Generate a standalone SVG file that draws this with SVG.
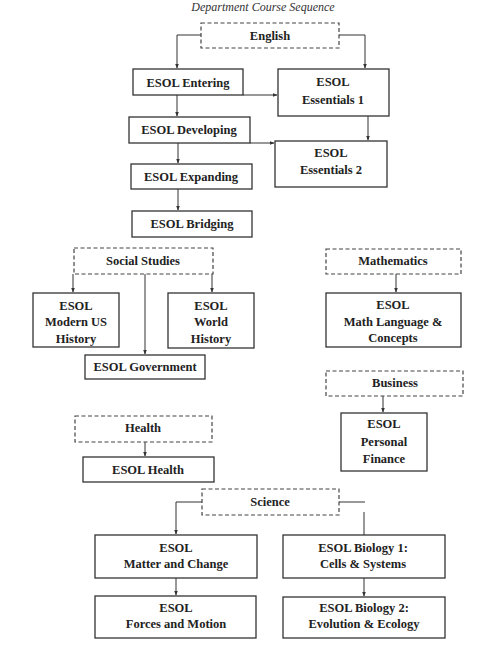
<svg xmlns="http://www.w3.org/2000/svg" width="500" height="669" viewBox="0 0 500 669">
<defs>
<marker id="ah" markerWidth="5" markerHeight="5" refX="4.5" refY="2.5" orient="auto" markerUnits="userSpaceOnUse">
<path d="M0,0.5 L5,2.5 L0,4.5 Z" fill="#333"/>
</marker>
<style>
.box{fill:#fff;stroke:#333;stroke-width:1.3}
.dash{fill:#fff;stroke:#444;stroke-width:1.2;stroke-dasharray:4 2.5}
.t{font-family:"Liberation Serif","Times New Roman",serif;font-weight:bold;font-size:12.5px;fill:#222;text-anchor:middle}
.c{fill:none;stroke:#333;stroke-width:1}
.title{font-family:"Liberation Serif",serif;font-style:italic;font-size:12px;fill:#333;text-anchor:middle}
</style>
</defs>
<rect width="500" height="669" fill="#fff"/>
<text class="title" x="263" y="11">Department Course Sequence</text>

<g id="connectors">
<polyline class="c" points="201,35 177,35 177,68" marker-end="url(#ah)"/>
<polyline class="c" points="339,35 365,35 365,68" marker-end="url(#ah)"/>
<line class="c" x1="243" y1="95" x2="277" y2="95" marker-end="url(#ah)"/>
<line class="c" x1="177" y1="95" x2="177" y2="116" marker-end="url(#ah)"/>
<line class="c" x1="368" y1="116" x2="368" y2="140" marker-end="url(#ah)"/>
<line class="c" x1="250" y1="143" x2="274" y2="143" marker-end="url(#ah)"/>
<line class="c" x1="178" y1="143" x2="178" y2="163" marker-end="url(#ah)"/>
<line class="c" x1="178" y1="189" x2="178" y2="210" marker-end="url(#ah)"/>
<line class="c" x1="73" y1="274" x2="73" y2="292" marker-end="url(#ah)"/>
<line class="c" x1="212" y1="274" x2="212" y2="292" marker-end="url(#ah)"/>
<line class="c" x1="145" y1="274" x2="145" y2="354" marker-end="url(#ah)"/>
<line class="c" x1="396" y1="274" x2="396" y2="292" marker-end="url(#ah)"/>
<line class="c" x1="383" y1="396" x2="383" y2="412" marker-end="url(#ah)"/>
<line class="c" x1="145" y1="442" x2="145" y2="456" marker-end="url(#ah)"/>
<polyline class="c" points="202,502 176,502 176,534" marker-end="url(#ah)"/>
<line class="c" x1="339" y1="502" x2="365" y2="502"/>
<line class="c" x1="364" y1="512" x2="364" y2="541" marker-end="url(#ah)"/>
<line class="c" x1="176" y1="578" x2="176" y2="595" marker-end="url(#ah)"/>
<line class="c" x1="364" y1="578" x2="364" y2="596" marker-end="url(#ah)"/>
</g>

<g id="english"><rect class="dash" x="201" y="23" width="138" height="25"/><text class="t" x="270" y="40">English</text></g>
<g id="esol-entering"><rect class="box" x="133" y="69" width="110" height="26"/><text class="t" x="188" y="87">ESOL Entering</text></g>
<g id="esol-essentials-1"><rect class="box" x="278" y="69" width="111" height="47"/><text class="t" x="333" y="86">ESOL</text><text class="t" x="333" y="104">Essentials 1</text></g>
<g id="esol-developing"><rect class="box" x="129" y="117" width="121" height="26"/><text class="t" x="189" y="134">ESOL Developing</text></g>
<g id="esol-essentials-2"><rect class="box" x="275" y="141" width="112" height="46"/><text class="t" x="331" y="157">ESOL</text><text class="t" x="331" y="174">Essentials 2</text></g>
<g id="esol-expanding"><rect class="box" x="131" y="164" width="121" height="25"/><text class="t" x="191" y="181">ESOL Expanding</text></g>
<g id="esol-bridging"><rect class="box" x="132" y="211" width="120" height="26"/><text class="t" x="192" y="228">ESOL Bridging</text></g>

<g id="social-studies"><rect class="dash" x="74" y="248" width="139" height="26"/><text class="t" x="143" y="265">Social Studies</text></g>
<g id="esol-modern-us-history"><rect class="box" x="33" y="293" width="86" height="54"/><text class="t" x="76" y="310">ESOL</text><text class="t" x="76" y="326">Modern US</text><text class="t" x="76" y="343">History</text></g>
<g id="esol-world-history"><rect class="box" x="168" y="293" width="86" height="55"/><text class="t" x="211" y="310">ESOL</text><text class="t" x="211" y="326">World</text><text class="t" x="211" y="343">History</text></g>
<g id="esol-government"><rect class="box" x="85" y="355" width="120" height="24"/><text class="t" x="145" y="371">ESOL Government</text></g>

<g id="mathematics"><rect class="dash" x="326" y="249" width="135" height="25"/><text class="t" x="393" y="265">Mathematics</text></g>
<g id="esol-math-language"><rect class="box" x="326" y="293" width="135" height="54"/><text class="t" x="393" y="309">ESOL</text><text class="t" x="393" y="326">Math Language &amp;</text><text class="t" x="393" y="342">Concepts</text></g>

<g id="business"><rect class="dash" x="326" y="371" width="137" height="25"/><text class="t" x="395" y="387">Business</text></g>
<g id="esol-personal-finance"><rect class="box" x="341" y="413" width="86" height="58"/><text class="t" x="384" y="428">ESOL</text><text class="t" x="384" y="446">Personal</text><text class="t" x="384" y="463">Finance</text></g>

<g id="health"><rect class="dash" x="75" y="416" width="137" height="26"/><text class="t" x="143" y="432">Health</text></g>
<g id="esol-health"><rect class="box" x="83" y="457" width="131" height="25"/><text class="t" x="148" y="474">ESOL Health</text></g>

<g id="science"><rect class="dash" x="202" y="489" width="137" height="26"/><text class="t" x="270" y="506">Science</text></g>
<g id="esol-matter-and-change"><rect class="box" x="95" y="535" width="162" height="43"/><text class="t" x="176" y="552">ESOL</text><text class="t" x="176" y="568">Matter and Change</text></g>
<g id="esol-biology-1"><rect class="box" x="283" y="535" width="162" height="43"/><text class="t" x="363" y="552">ESOL Biology 1:</text><text class="t" x="363" y="568">Cells &amp; Systems</text></g>
<g id="esol-forces-and-motion"><rect class="box" x="95" y="596" width="161" height="42"/><text class="t" x="176" y="612">ESOL</text><text class="t" x="176" y="628">Forces and Motion</text></g>
<g id="esol-biology-2"><rect class="box" x="283" y="597" width="162" height="41"/><text class="t" x="364" y="612">ESOL Biology 2:</text><text class="t" x="364" y="628">Evolution &amp; Ecology</text></g>
</svg>
